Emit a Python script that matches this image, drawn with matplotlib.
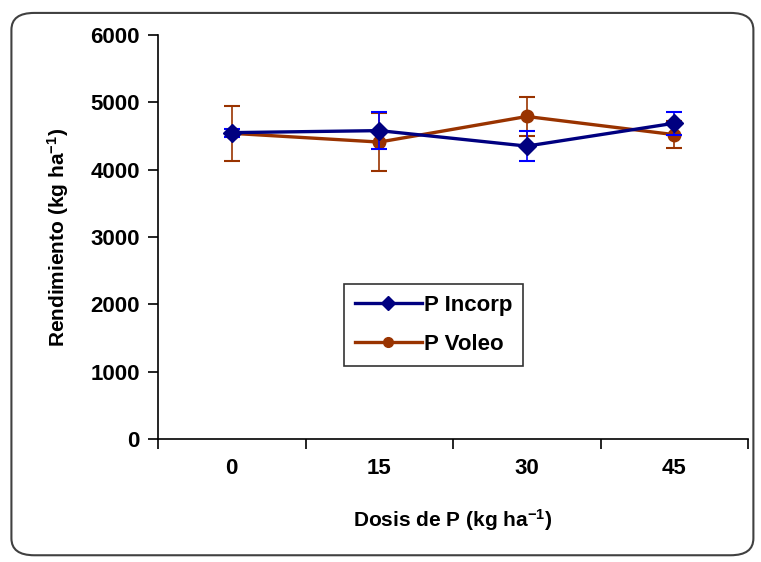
import matplotlib.pyplot as plt
import numpy as np
from matplotlib.patches import FancyBboxPatch
from matplotlib.lines import Line2D

plt.rcParams['font.family'] = ['Liberation Sans', 'DejaVu Sans']
plt.rcParams['font.weight'] = 'bold'
plt.rcParams['mathtext.fontset'] = 'custom'
plt.rcParams['mathtext.rm'] = 'Liberation Sans:bold'
plt.rcParams['mathtext.default'] = 'rm'

dosis = ['0', '15', '30', '45']
incorp = [4550, 4580, 4350, 4690]
incorp_err = [60, 270, 220, 170]
voleo = [4540, 4410, 4790, 4520]
voleo_err = [410, 430, 290, 200]

fig = plt.figure(figsize=(7.61, 5.62), dpi=100)
fig.patches.append(FancyBboxPatch((0.015, 0.012), 0.975, 0.965,
                                  boxstyle='round,pad=0,rounding_size=0.03',
                                  transform=fig.transFigure, fill=False,
                                  edgecolor='#404040', linewidth=1.5))

ax = fig.add_axes([0.2076, 0.2189, 0.7754, 0.7188])
x = np.arange(len(dosis))

ax.errorbar(x, incorp, yerr=incorp_err, color='#000080', ecolor='#0000ff',
            elinewidth=1.2, capsize=6, capthick=1.5, linewidth=2.4,
            marker='D', markersize=9, zorder=3)
ax.errorbar(x, voleo, yerr=voleo_err, color='#993300', ecolor='#993300',
            elinewidth=1.2, capsize=6, capthick=1.5, linewidth=2.4,
            marker='o', markersize=9, zorder=2)

ax.set_xlim(-0.5, 3.5)
ax.set_ylim(0, 6000)
ax.set_yticks(np.arange(0, 6001, 1000))
ax.set_xticks(x)
ax.set_xticklabels(dosis)
ax.set_xticks(np.arange(-0.5, 3.6, 1), minor=True)
ax.tick_params(axis='x', which='major', length=0, pad=14, labelsize=16)
ax.tick_params(axis='x', which='minor', length=7, width=1.2, direction='out')
ax.tick_params(axis='y', length=7, width=1.2, direction='out', labelsize=16, pad=6)
for lab in ax.get_xticklabels() + ax.get_yticklabels():
    lab.set_fontweight('bold')

for s in ['top', 'right']:
    ax.spines[s].set_visible(False)
for s in ['left', 'bottom']:
    ax.spines[s].set_linewidth(1.2)

ax.set_xlabel('Dosis de P (kg ha$^{-1}$)', fontsize=15, fontweight='bold', labelpad=20)
ax.set_ylabel('Rendimiento (kg ha$^{-1}$)', fontsize=15, fontweight='bold', labelpad=14)

handles = [
    Line2D([], [], color='#000080', linewidth=2.4, marker='D', markersize=7),
    Line2D([], [], color='#993300', linewidth=2.4, marker='o', markersize=7),
]
leg = ax.legend(handles, ['P Incorp', 'P Voleo'], loc='upper left',
                bbox_to_anchor=(0.315, 0.384), borderaxespad=0, fontsize=16,
                frameon=True, fancybox=False, edgecolor='black',
                handlelength=3.0, borderpad=0.5, labelspacing=0.8,
                handletextpad=0.1)
leg.get_frame().set_linewidth(1.2)
for t in leg.get_texts():
    t.set_fontweight('bold')

fig.savefig('out.png', dpi=100)
